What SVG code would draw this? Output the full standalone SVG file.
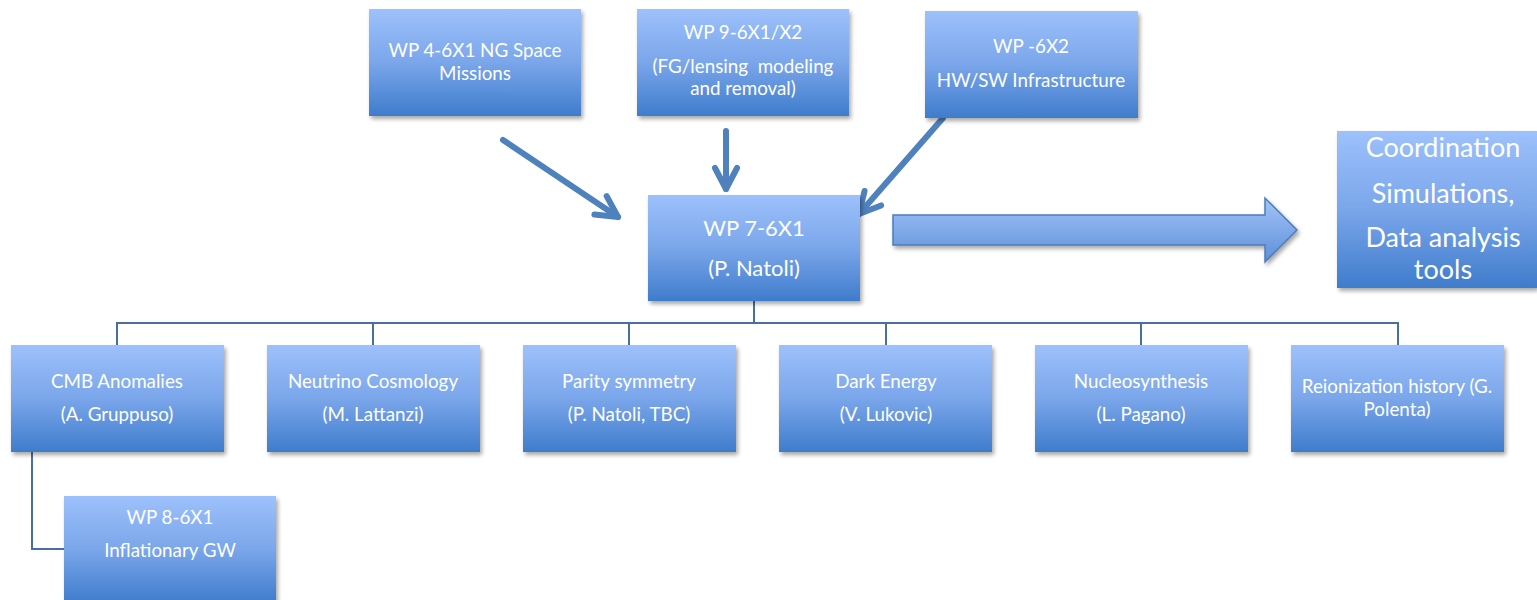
<svg xmlns="http://www.w3.org/2000/svg" width="1537" height="600" viewBox="0 0 1537 600">
<defs>
<linearGradient id="g" x1="0" y1="0" x2="0" y2="1">
<stop offset="0" stop-color="#9dc1fb"/>
<stop offset="0.5" stop-color="#7aa6ea"/>
<stop offset="1" stop-color="#3f7ccc"/>
</linearGradient>
<linearGradient id="ga" x1="0" y1="0" x2="0" y2="1">
<stop offset="0" stop-color="#a3c4f8"/>
<stop offset="1" stop-color="#5d8fd9"/>
</linearGradient>
<filter id="sh" x="-10%" y="-10%" width="125%" height="130%">
<feGaussianBlur in="SourceAlpha" stdDeviation="2"/>
<feOffset dx="2" dy="3" result="b"/>
<feComponentTransfer><feFuncA type="linear" slope="0.35"/></feComponentTransfer>
<feMerge><feMergeNode/><feMergeNode in="SourceGraphic"/></feMerge>
</filter>
<marker id="chev" markerUnits="userSpaceOnUse" markerWidth="40" markerHeight="40" refX="0" refY="0" orient="auto" overflow="visible">
<path d="M-21,-11 L0,0 L-21,11" fill="none" stroke="#4f81bd" stroke-width="6" stroke-linecap="round" stroke-linejoin="round"/>
</marker>
<style>
.box{fill:url(#g);filter:url(#sh);}
.t{font-family:Lato,"Open Sans",sans-serif;font-size:18.8px;fill:#ffffff;text-anchor:middle;}
.tl{font-size:22px;}
.tx{font-size:27px;}
.conn{fill:none;stroke:#4a6f9e;stroke-width:2;}
.arr{fill:none;stroke:#4f81bd;stroke-width:6;stroke-linecap:round;marker-end:url(#chev);}
</style>
</defs>
<rect width="1537" height="600" fill="#ffffff"/>

<g id="connectors">
<path class="conn" d="M754,301 V323 M117,345 V323 H1398 V345 M373,323 V345 M629,323 V345 M886,323 V345 M1141,323 V345"/>
<path class="conn" d="M32,452 V549 H64"/>
<path class="arr" d="M503,140 L618,217"/>
<path class="arr" d="M726,131 V189"/>
<path class="arr" d="M943,118 L859,214"/>
<polygon points="893,215 1265,215 1265,198 1297,230 1265,262 1265,245 893,245" fill="url(#ga)" stroke="#4a7ebb" stroke-width="1.5" filter="url(#sh)"/>
</g>

<g id="wp4">
<rect class="box" x="369" y="9" width="212" height="107"/>
<text class="t" x="475" y="57">WP 4-6X1 NG Space</text>
<text class="t" x="475" y="80">Missions</text>
</g>
<g id="wp9">
<rect class="box" x="637" y="9" width="212" height="107"/>
<text class="t" x="743" y="39">WP 9-6X1/X2</text>
<text class="t" x="743" y="73" xml:space="preserve">(FG/lensing  modeling</text>
<text class="t" x="743" y="95">and removal)</text>
</g>
<g id="wp6x2">
<rect class="box" x="925" y="11" width="213" height="107"/>
<text class="t" x="1031" y="53">WP -6X2</text>
<text class="t" x="1031" y="87">HW/SW Infrastructure</text>
</g>
<g id="wp7">
<rect class="box" x="648" y="195" width="212" height="106"/>
<text class="t tl" x="754" y="236">WP 7-6X1</text>
<text class="t tl" x="754" y="276">(P. Natoli)</text>
</g>
<g id="coord">
<rect class="box" x="1337" y="131" width="200" height="157"/>
<text class="t tx" x="1443" y="157">Coordination</text>
<text class="t tx" x="1443" y="203">Simulations,</text>
<text class="t tx" x="1443" y="247">Data analysis</text>
<text class="t tx" x="1443" y="279">tools</text>
</g>

<g id="cmb">
<rect class="box" x="11" y="345" width="213" height="107"/>
<text class="t" x="117" y="388">CMB Anomalies</text>
<text class="t" x="117" y="421">(A. Gruppuso)</text>
</g>
<g id="neutrino">
<rect class="box" x="267" y="345" width="213" height="107"/>
<text class="t" x="373" y="388">Neutrino Cosmology</text>
<text class="t" x="373" y="421">(M. Lattanzi)</text>
</g>
<g id="parity">
<rect class="box" x="523" y="345" width="213" height="107"/>
<text class="t" x="629" y="388">Parity symmetry</text>
<text class="t" x="629" y="421">(P. Natoli, TBC)</text>
</g>
<g id="darkenergy">
<rect class="box" x="779" y="345" width="213" height="107"/>
<text class="t" x="886" y="388">Dark Energy</text>
<text class="t" x="886" y="421">(V. Lukovic)</text>
</g>
<g id="nucleo">
<rect class="box" x="1035" y="345" width="213" height="107"/>
<text class="t" x="1141" y="388">Nucleosynthesis</text>
<text class="t" x="1141" y="421">(L. Pagano)</text>
</g>
<g id="reion">
<rect class="box" x="1291" y="345" width="213" height="107"/>
<text class="t" x="1397" y="393">Reionization history (G.</text>
<text class="t" x="1397" y="416">Polenta)</text>
</g>
<g id="wp8">
<rect class="box" x="64" y="496" width="212" height="107"/>
<text class="t" x="170" y="524">WP 8-6X1</text>
<text class="t" x="170" y="557">Inflationary GW</text>
</g>
</svg>
